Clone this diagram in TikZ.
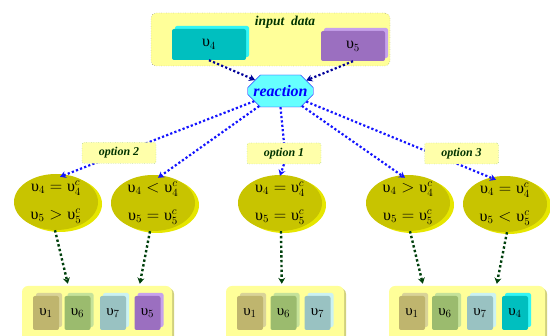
\documentclass[tikz,border=0pt]{standalone}
\usepackage{fontspec}
\setmainfont{Liberation Serif}
\usetikzlibrary{shapes.misc,shapes.geometric,shadows,arrows.meta,calc}
\newcommand{\Ups}{\mbox{υ}}
\definecolor{inboxc}{HTML}{FFFF99}
\definecolor{optc}{HTML}{FFFFAA}
\definecolor{txtg}{HTML}{003300}
\definecolor{ellc}{HTML}{C8C400}
\definecolor{ells}{HTML}{E6E600}
\definecolor{reac}{HTML}{66FFFF}
\definecolor{lblue}{HTML}{1414FF}
\definecolor{dblue}{HTML}{000099}
\definecolor{dgreen}{HTML}{00400C}
\definecolor{olv}{HTML}{BFB56E}\definecolor{olvL}{HTML}{D9D398}
\definecolor{grn}{HTML}{9BBB6E}\definecolor{grnL}{HTML}{C5E29A}
\definecolor{tea}{HTML}{99C2C2}\definecolor{teaL}{HTML}{CBF2F2}
\definecolor{pur}{HTML}{9B6FC0}\definecolor{purL}{HTML}{C7A2EC}
\definecolor{cya}{HTML}{00BFBF}\definecolor{cyaL}{HTML}{33F5F5}
\pgfdeclarelayer{fg}
\pgfsetlayers{main,fg}
\begin{document}
\begin{tikzpicture}[x=1pt,y=-1pt,
  inbox/.style={draw=gray!80!black, dotted, fill=inboxc, rounded corners=5pt, minimum width=239pt, minimum height=53pt},
  blk/.style 2 args={fill=#1, rounded corners=2pt, inner sep=0pt,
     copy shadow={shadow xshift=3pt, shadow yshift=3pt, fill=#2, draw=none}},
  sblk/.style 2 args={blk={#1}{#2}, minimum width=26pt, minimum height=34pt, font=\fontsize{15}{17}\selectfont},
  bblk/.style 2 args={blk={#1}{#2}, font=\fontsize{16}{18}\selectfont},
  react/.style={chamfered rectangle, chamfered rectangle xsep=7pt, chamfered rectangle ysep=7pt,
     draw=blue, fill=reac, minimum width=65pt, minimum height=32pt, inner sep=0pt,
     font=\fontsize{16}{18}\selectfont\bfseries\itshape, text=blue},
  opt/.style={draw=green!30!gray, dotted, fill=optc, rounded corners=2pt, minimum width=74pt, minimum height=21pt,
     inner sep=0pt, font=\fontsize{12}{14}\selectfont\bfseries\itshape, text=txtg},
  ell/.style={ellipse, fill=ellc, minimum width=84pt, minimum height=56pt, inner sep=0pt,
     copy shadow={shadow xshift=4pt, shadow yshift=-2pt, fill=ells, draw=none}},
  etxt/.style={align=center, inner sep=0pt, font=\fontsize{16}{18}\selectfont},
  bbox/.style={fill=inboxc, rounded corners=6pt, minimum height=59pt,
     copy shadow={shadow xshift=2pt, shadow yshift=-2pt, fill=black!18!inboxc, draw=none}},
  bl/.style={draw=lblue, line width=2.2pt, dash pattern=on 2.2pt off 2.2pt},
  db/.style={draw=dblue, line width=2.2pt, dash pattern=on 2.2pt off 2.2pt},
  dg/.style={draw=dgreen, line width=2.4pt, dash pattern=on 2.4pt off 2.4pt},
  tip/.style={-{Stealth[length=6pt,width=7pt]}}
]
\useasboundingbox (0,0) rectangle (550,336);

% input data box
\node[inbox] (in) at (270.5,39.5) {};
\node[font=\fontsize{13.5}{15}\selectfont\bfseries\itshape, text=txtg] (inlbl) at (285,22) {input\ \ data};
\node[bblk={cya}{cyaL}, minimum width=74pt, minimum height=31pt] (c4) at (209,44.5) {$\Ups_4$};
\node[bblk={pur}{purL}, minimum width=64pt, minimum height=30pt] (p5) at (353,46) {$\Ups_5$};

% reaction
\node[react] (re) at (280.5,91) {reaction};

% ellipses
\node[ell] (e1) at (56,202) {};
\node[ell] (e2) at (153,203) {};
\node[ell] (e3) at (280,203) {};
\node[ell] (e4) at (408,203) {};
\node[ell] (e5) at (505,204) {};
\node[etxt] (t1) at (e1) {$\Ups_4=\Ups_4^c$\\[10pt]$\Ups_5>\Ups_5^c$};
\node[etxt] (t2) at (e2) {$\Ups_4<\Ups_4^c$\\[10pt]$\Ups_5=\Ups_5^c$};
\node[etxt] (t3) at (e3) {$\Ups_4=\Ups_4^c$\\[10pt]$\Ups_5=\Ups_5^c$};
\node[etxt] (t4) at (e4) {$\Ups_4>\Ups_4^c$\\[10pt]$\Ups_5=\Ups_5^c$};
\node[etxt] (t5) at (e5) {$\Ups_4=\Ups_4^c$\\[10pt]$\Ups_5<\Ups_5^c$};

% bottom boxes
\node[bbox, minimum width=150pt] (b1) at (97,315.5) {};
\node[bbox, minimum width=118pt] (b2) at (285,315.5) {};
\node[bbox, minimum width=156pt] (b3) at (467,315.5) {};

\node[sblk={olv}{olvL}] (b1a) at (46,313) {$\Ups_1$};
\node[sblk={grn}{grnL}] (b1b) at (77.5,313) {$\Ups_6$};
\node[sblk={tea}{teaL}] (b1c) at (113,313) {$\Ups_7$};
\node[sblk={pur}{purL}] (b1d) at (147.5,313) {$\Ups_5$};

\node[sblk={olv}{olvL}] (b2a) at (250,313) {$\Ups_1$};
\node[sblk={grn}{grnL}] (b2b) at (283.5,313) {$\Ups_6$};
\node[sblk={tea}{teaL}] (b2c) at (317.5,313) {$\Ups_7$};

\node[sblk={olv}{olvL}] (b3a) at (412,313) {$\Ups_1$};
\node[sblk={grn}{grnL}] (b3b) at (445,313) {$\Ups_6$};
\node[sblk={tea}{teaL}] (b3c) at (480,313) {$\Ups_7$};
\node[sblk={cya}{cyaL}] (b3d) at (515,313) {$\Ups_4$};

% option labels (foreground)
\begin{pgfonlayer}{fg}
\node[opt] (o2) at (119,153) {option 2};
\node[opt] (o1) at (284,153.5) {option 1};
\node[opt] (o3) at (461.5,153.5) {option 3};
\end{pgfonlayer}

% input to reaction
\draw[db,tip] (c4.south) -- (re);
\draw[db,tip] (p5.south) -- (re);

% reaction to ellipses
\draw[bl,tip] (re) -- ([xshift=4pt,yshift=-3pt]e1.north);
\draw[bl,tip] (re) -- ([xshift=5pt,yshift=-3pt]e2.north);
\draw[bl] (re.south) -- (o1.north);
\draw[bl,tip] (o1.south) -- ([yshift=-1pt]e3.north);
\draw[bl,tip] (re) -- ([xshift=-3pt,yshift=-3pt]e4.north);
\draw[bl,tip] (re) -- ([xshift=-9pt,yshift=-4pt]e5.north);

% ellipses to results
\draw[dg,tip] ([xshift=-1pt]e1.south) -- ($(b1.north west)+(46,-2)$);
\draw[dg,tip] ([xshift=-3pt]e2.south) -- ($(b1.north west)+(118,-2)$);
\draw[dg,tip] ([xshift=1pt]e3.south) -- ($(b2.north west)+(56,-2)$);
\draw[dg,tip] ([xshift=2pt]e4.south) -- ($(b3.north west)+(34,-2)$);
\draw[dg,tip] ([xshift=2pt]e5.south) -- ($(b3.north west)+(108,-2)$);
\end{tikzpicture}
\end{document}
